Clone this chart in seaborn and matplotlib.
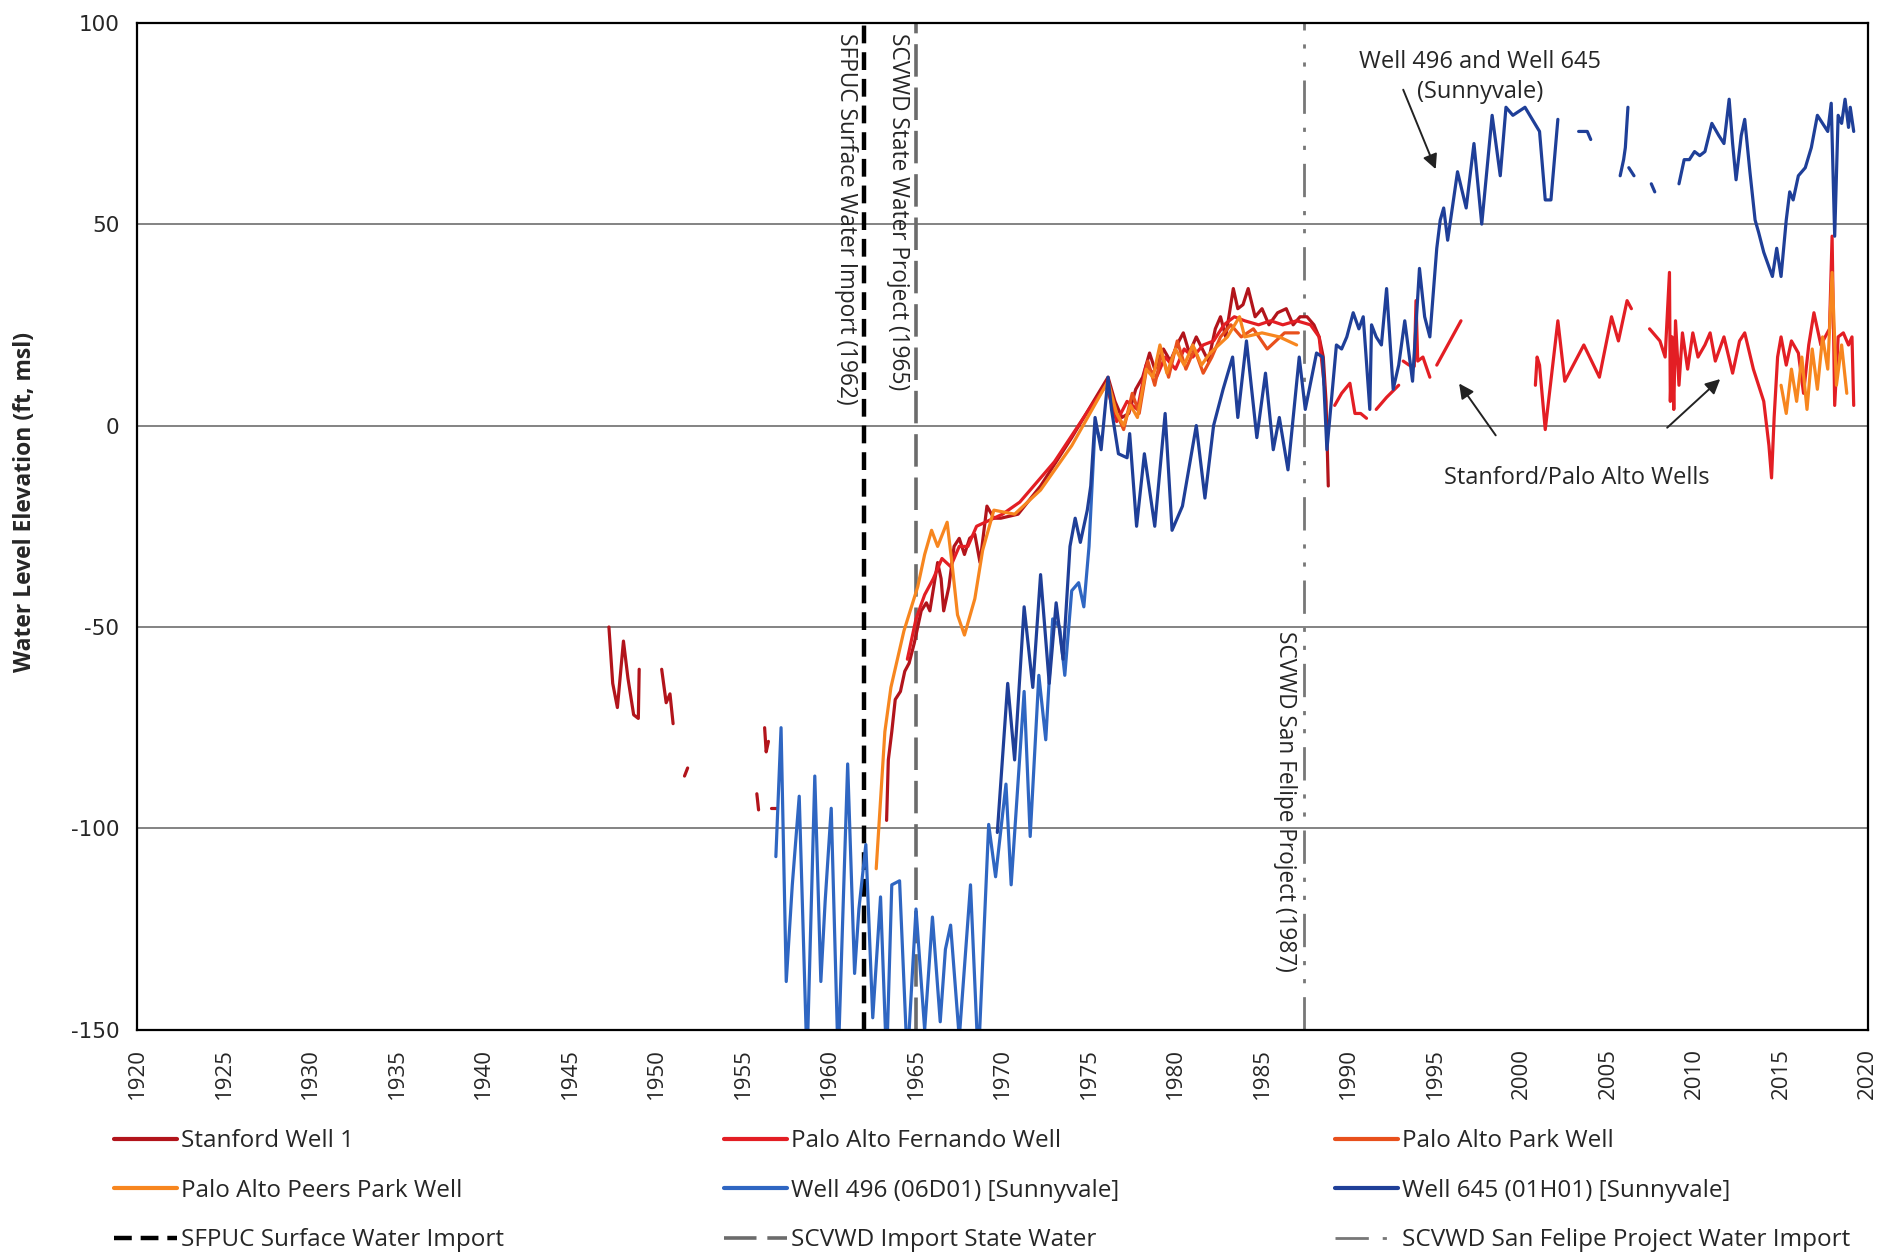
import numpy as np
import pandas as pd
import matplotlib
matplotlib.use('Agg')
import matplotlib.pyplot as plt
import seaborn as sns
from matplotlib.lines import Line2D

nan = np.nan

# Stanford Well 1 (early fragments + 1963-1989)
stanford_yr = [1947.25, 1947.47, 1947.74, 1948.09, 1948.35, 1948.68, 1948.95, 1949.0, nan,
               1950.3, 1950.56, 1950.78, 1950.96, nan,
               1951.62, 1951.8, nan,
               1955.8, 1955.9, nan,
               1956.25, 1956.34, 1956.47, nan,
               1956.6, 1956.96, nan,
               1963.3, 1963.4, 1963.6, 1963.8, 1964.1, 1964.35, 1964.6, 1964.9, 1965.3, 1965.6,
               1965.8, 1966.25, 1966.45, 1966.6, 1966.9, 1967.2, 1967.5, 1967.8, 1968.1, 1968.4,
               1968.7, 1969.1, 1969.5, 1969.9, 1970.9, 1972.2, 1974.0, 1976.1, 1976.5, 1976.9,
               1977.3, 1977.7, 1978.1, 1978.5, 1978.8, 1979.3, 1979.7, 1980.2, 1980.45, 1980.8,
               1981.2, 1981.9, 1982.3, 1982.6, 1982.9, 1983.34, 1983.6, 1983.9, 1984.2, 1984.6,
               1985.0, 1985.4, 1985.9, 1986.4, 1986.8, 1987.2, 1987.6, 1988.0, 1988.3, 1988.54,
               1988.7, 1988.83]
stanford_val = [-50, -64, -70, -53.5, -62.7, -71.8, -72.7, -60.5, nan,
                -60.5, -68.8, -66.6, -74, nan,
                -87, -85, nan,
                -91.4, -95.4, nan,
                -75, -81, -78.4, nan,
                -95, -95, nan,
                -98, -83, -76, -68, -66, -61, -59, -54, -46, -44,
                -46, -34, -38, -46, -40, -30, -28, -32, -28, -27,
                -34, -20, -23, -23, -22, -15, -3, 12, 6, 2,
                3, 9, 12, 18, 14, 19, 16, 21, 23, 18,
                22, 16, 24, 27, 22, 34, 29, 30, 34, 27,
                29, 25, 28, 29, 25, 27, 27, 25, 22, 17,
                6, -15]

# Palo Alto Fernando Well
fernando_yr = [1964.5, 1965.0, 1965.5, 1966.0, 1966.5, 1967.0, 1967.5, 1968.0, 1968.5, 1969.0,
               1970.0, 1971.0, 1973.0, 1975.0, 1976.0, 1976.6, 1977.2, 1977.8, 1978.3, 1978.9,
               1979.4, 1980.0, 1980.5, 1981.0, 1981.6, 1982.2, 1982.8, 1983.4, 1984.0, 1984.8,
               1985.5, 1986.2, 1987.0, 1987.8, 1988.3, 1988.6, nan,
               1989.2, 1989.6, 1990.08, 1990.37, 1990.7, 1991.04, nan,
               1991.6, 1992.2, 1992.9, nan,
               1993.16, 1993.5, 1993.8, 1993.9, 1994.0, 1994.3, 1994.7, nan,
               1995.1, 1996.5, nan,
               2000.8, 2000.9, 2001.04, 2001.37, 2002.1, 2002.5, 2003.6, 2004.5, 2005.2, 2005.6,
               2006.1, 2006.35, nan,
               2007.4, 2008.0, 2008.3, 2008.55, 2008.6, 2008.7, 2008.8, 2008.9, 2009.1, 2009.3,
               2009.6, 2009.9, 2010.2, 2010.6, 2010.9, 2011.2, 2011.7, 2012.2, 2012.6, 2012.9,
               2013.4, 2014.0, 2014.3, 2014.45, 2014.6, 2014.8, 2015.0, 2015.3, 2015.6, 2016.0,
               2016.3, 2016.6, 2016.9, 2017.3, 2017.8, 2017.95, 2018.1, 2018.3, 2018.6, 2018.9,
               2019.1, 2019.2]
fernando_val = [-58, -48, -42, -38, -33, -35, -30, -30, -25, -24,
                -22, -19, -9, 4, 10, 1, 6, 4, 15, 12,
                17, 14, 19, 17, 20, 21, 25, 27, 26, 25,
                26, 25, 26, 25, 22, 10, nan,
                5, 8, 10.5, 3, 3, 1.8, nan,
                4, 7, 10, nan,
                16, 15, 14.7, 31, 16, 17, 12, nan,
                15, 26, nan,
                10, 17, 15, -1, 26, 11, 20, 12, 27, 21,
                31, 29, nan,
                24, 21, 17, 38, 6, 22, 4, 26, 10, 23,
                14, 23, 17, 20, 23, 16, 22, 13, 21, 23,
                14, 6, -5, -13, 2, 17, 22, 15, 21, 18,
                8, 20, 28, 20, 24, 47, 5, 22, 23, 20,
                22, 5]

# Palo Alto Park Well
park_yr = [1976.5, 1977.0, 1977.5, 1977.9, 1978.4, 1978.8, 1979.2, 1979.6, 1980.1, 1980.6,
           1981.1, 1981.6, 1982.1, 1982.6, 1983.2, 1983.8, 1984.5, 1985.3, 1986.3, 1987.1]
park_val = [4, -1, 8, 3, 16, 10, 18, 12, 21, 14,
            19, 13, 17, 22, 25, 22, 24, 19, 23, 23]

# Palo Alto Peers Park Well
peers_yr = [1962.7, 1963.2, 1963.55, 1964.3, 1965.1, 1965.5, 1965.9, 1966.25, 1966.8, 1967.1,
            1967.4, 1967.8, 1968.4, 1968.85, 1969.5, 1970.7, 1972.2, 1974.0, 1976.1, 1976.6,
            1977.0, 1977.4, 1977.8, 1978.3, 1978.7, 1979.1, 1979.5, 1980.0, 1980.5, 1981.0,
            1981.5, 1982.0, 1982.5, 1983.0, 1983.7, 1984.0, 1985.0, 1986.0, 1987.0, nan,
            2015.0, 2015.3, 2015.6, 2015.9, 2016.2, 2016.5, 2016.8, 2017.1, 2017.4, 2017.7,
            2017.95, 2018.2, 2018.5, 2018.8]
peers_val = [-110, -76, -65, -51, -40, -32, -26, -30, -24, -35,
             -47, -52, -43, -31, -21, -22, -16, -5, 11, 3,
             0, 5, 2, 14, 12, 20, 13, 19, 15, 20,
             15, 18, 20, 22, 27, 22, 23, 22, 20, nan,
             10, 3, 14, 6, 17, 4, 19, 9, 22, 14,
             38, 10, 20, 8]

# Well 496 (06D01) [Sunnyvale]
w496_yr = [1956.9, 1957.2, 1957.5, 1957.85, 1958.25, 1958.7, 1959.15, 1959.5, 1959.75, 1960.1,
           1960.5, 1961.05, 1961.45, 1961.7, 1962.1, 1962.5, 1962.95, 1963.3, 1963.6, 1964.05,
           1964.5, 1965.0, 1965.5, 1965.95, 1966.4, 1966.7, 1967.0, 1967.5, 1968.15, 1968.6,
           1969.2, 1969.6, 1970.2, 1970.5, 1971.25, 1971.6, 1972.1, 1972.5, 1972.9, 1973.3,
           1973.6, 1974.0, 1974.4, 1974.7, 1975.0, 1975.35, 1975.7]
w496_val = [-107, -75, -138, -114, -92, -158, -87, -138, -118, -95,
            -158, -84, -136, -120, -104, -147, -117, -158, -114, -113,
            -158, -120, -150, -122, -148, -130, -124, -152, -114, -158,
            -99, -112, -89, -114, -66, -102, -62, -78, -48, -50,
            -62, -41, -39, -45, -30, 0, -4]

# Well 645 (01H01) [Sunnyvale]
w645_yr = [1969.7, 1970.3, 1970.7, 1971.25, 1971.75, 1972.2, 1972.7, 1973.1, 1973.5, 1973.9,
           1974.2, 1974.5, 1974.9, 1975.1, 1975.35, 1975.7, 1976.1, 1976.3, 1976.7, 1977.2,
           1977.35, 1977.75, 1978.2, 1978.8, 1979.4, 1979.8, 1980.4, 1981.2, 1981.7, 1982.2,
           1982.75, 1983.3, 1983.6, 1984.1, 1984.7, 1985.2, 1985.65, 1986.0, 1986.5, 1987.15,
           1987.5, 1988.15, 1988.5, 1988.75, 1988.9, 1989.3, 1989.6, 1989.9, 1990.27, 1990.6,
           1990.85, 1991.0, 1991.23, 1991.33, 1991.6, 1991.9, 1992.2, 1992.58, 1992.9, 1993.25,
           1993.7, 1994.1, 1994.4, 1994.7, 1995.1, 1995.3, 1995.5, 1995.73, 1996.3, 1996.8,
           1997.25, 1997.7, 1998.3, 1998.77, 1999.1, 1999.5, 2000.2, 2001.04, 2001.37, 2001.7,
           2002.1, nan,
           2003.3, 2003.8, 2004.0, nan,
           2005.7, 2005.9, 2006.0, 2006.15, nan,
           2006.2, 2006.5, nan,
           2007.5, 2007.7, nan,
           2009.1, 2009.4, 2009.7, 2010.0, 2010.3, 2010.6, 2011.0, 2011.4, 2011.7, 2012.0,
           2012.2, 2012.4, 2012.7, 2012.9, 2013.2, 2013.5, 2013.7, 2014.0, 2014.5, 2014.75,
           2015.0, 2015.3, 2015.5, 2015.7, 2016.0, 2016.4, 2016.75, 2017.1, 2017.4, 2017.7,
           2017.9, 2018.1, 2018.3, 2018.5, 2018.7, 2018.9, 2019.0, 2019.2]
w645_val = [-101, -64, -83, -45, -65, -37, -64, -44, -58, -30,
            -23, -29, -21, -15, 2, -6, 12, 4, -7, -8,
            -2, -25, -7, -25, 3, -26, -20, 0, -18, 0,
            9, 17, 2, 21, -3, 13, -6, 2, -11, 17,
            4, 18, 17, -6, 1, 20, 19, 22, 28, 24,
            27, 18, 4, 25, 22, 20, 34, 9, 15, 26,
            11, 39, 27, 22, 44, 51, 54, 46, 63, 54,
            70, 50, 77, 62, 79, 77, 79, 73, 56, 56,
            76, nan,
            73, 73, 71, nan,
            62, 66, 69, 79, nan,
            64, 62, nan,
            60, 58, nan,
            60, 66, 66, 68, 67, 68, 75, 72, 70, 81,
            70, 61, 72, 76, 63, 51, 48, 43, 37, 44,
            37, 51, 58, 56, 62, 64, 69, 77, 75, 73,
            80, 47, 77, 75, 81, 74, 79, 73]

series = [
    ('Stanford Well 1', stanford_yr, stanford_val, '#B2141B'),
    ('Palo Alto Fernando Well', fernando_yr, fernando_val, '#E31E24'),
    ('Palo Alto Park Well', park_yr, park_val, '#E8501C'),
    ('Palo Alto Peers Park Well', peers_yr, peers_val, '#F7861F'),
    ('Well 496 (06D01) [Sunnyvale]', w496_yr, w496_val, '#2F66C2'),
    ('Well 645 (01H01) [Sunnyvale]', w645_yr, w645_val, '#1F3F98'),
]

import_years = [1962.0, 1965.0, 1987.4]
import_labels = ['SFPUC Surface Water Import', 'SCVWD Import State Water',
                 'SCVWD San Felipe Project Water Import']
import_notes = ['SFPUC Surface Water Import (1962)', 'SCVWD State Water Project (1965)',
                'SCVWD San Felipe Project (1987)']

# long table, with a segment id that breaks lines at gaps
frames = []
for name, yr, val, col in series:
    df = pd.DataFrame({'year': yr, 'value': val})
    df['seg'] = name + '_' + df['year'].isna().cumsum().astype(str)
    df['series'] = name
    frames.append(df.dropna())
data = pd.concat(frames, ignore_index=True)
palette = {name: col for name, _, _, col in series}

sns.set_theme(style='white')
plt.rcParams['font.family'] = ['Open Sans', 'DejaVu Sans']

fig, ax = plt.subplots(figsize=(18.96, 12.59), dpi=100)
plt.subplots_adjust(left=0.0725, right=0.985, top=0.982, bottom=0.182)

for v in [-100, -50, 0, 50]:
    ax.axhline(v, color='#7a7a7a', lw=1.3, zorder=0)

sns.lineplot(data=data, x='year', y='value', hue='series', units='seg', estimator=None,
             sort=False, palette=palette, linewidth=2.3, legend=False, ax=ax)

vstyles = [dict(color='black', lw=3.2, ls=(0, (4, 2))),
           dict(color='#6b6b6b', lw=2.6, ls=(0, (9, 3))),
           dict(color='#777777', lw=2.0, ls=(0, (12, 5, 1.5, 5, 1.5, 5)))]
for x, st in zip(import_years, vstyles):
    ax.axvline(x, **st, zorder=1)

ax.text(1960.95, 97.5, import_notes[0], rotation=-90, ha='center', va='top', fontsize=16.3)
ax.text(1963.95, 97.5, import_notes[1], rotation=-90, ha='center', va='top', fontsize=16.3)
ax.text(1986.35, -51, import_notes[2], rotation=-90, ha='center', va='top', fontsize=16.3)

ax.annotate('', xy=(1995.1, 63), xytext=(1993.1, 84),
            arrowprops=dict(arrowstyle='-|>', color='#222222', lw=1.4, mutation_scale=22))
ax.text(1997.6, 86.5, 'Well 496 and Well 645\n(Sunnyvale)', ha='center', va='center',
        fontsize=17, linespacing=1.3)
ax.annotate('', xy=(1996.3, 11), xytext=(1998.6, -3),
            arrowprops=dict(arrowstyle='-|>', color='#222222', lw=1.4, mutation_scale=22))
ax.annotate('', xy=(2011.6, 12), xytext=(2008.3, -1),
            arrowprops=dict(arrowstyle='-|>', color='#222222', lw=1.4, mutation_scale=22))
ax.text(2003.2, -13, 'Stanford/Palo Alto Wells', ha='center', va='center', fontsize=17)

ax.set_xlim(1920, 2020)
ax.set_ylim(-150, 100)
ax.set_xticks(range(1920, 2021, 5))
ax.set_yticks(range(-150, 101, 50))
ax.set_xticklabels([str(y) for y in range(1920, 2021, 5)], rotation=90, fontsize=16)
ax.set_yticklabels([str(v) for v in range(-150, 101, 50)], fontsize=15.5, family='DejaVu Sans')
ax.tick_params(axis='both', direction='out', length=8, width=1.4, color='black', pad=5)
ax.set_xlabel('')
ax.set_ylabel('Water Level Elevation (ft, msl)', fontsize=16.5, fontweight='bold')
ax.yaxis.set_label_coords(-0.058, 0.524)
for sp in ax.spines.values():
    sp.set_color('black')
    sp.set_linewidth(1.6)

handles = {name: Line2D([], [], color=col, lw=3) for name, _, _, col in series}
for lab, st in zip(import_labels, vstyles):
    handles[lab] = Line2D([], [], **st)
columns = [['Stanford Well 1', 'Palo Alto Peers Park Well', import_labels[0]],
           ['Palo Alto Fernando Well', 'Well 496 (06D01) [Sunnyvale]', import_labels[1]],
           ['Palo Alto Park Well', 'Well 645 (01H01) [Sunnyvale]', import_labels[2]]]
col_x = [0.060, 0.382, 0.704]
for x, labs in zip(col_x, columns):
    leg = fig.legend([handles[k] for k in labs], labs, loc='upper left',
                     bbox_to_anchor=(x, 0.103), frameon=False, fontsize=17.5,
                     handlelength=2.6, handletextpad=0.15, labelspacing=1.05,
                     borderaxespad=0, borderpad=0)

fig.savefig('out.png', dpi=100)
